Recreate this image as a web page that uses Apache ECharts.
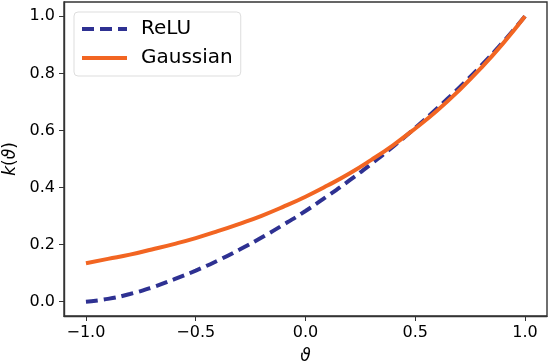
<!DOCTYPE html>
<html>
<head>
<meta charset="utf-8">
<script src="https://cdn.jsdelivr.net/npm/echarts@6/dist/echarts.min.js"></script>
<style>
  html, body { margin: 0; padding: 0; background: #fff; }
  #chart { width: 550px; height: 364px; }
</style>
</head>
<body>
<div id="chart"></div>
<script>
// theta values along the x axis
const thetas = [-1.0, -0.9, -0.8, -0.7, -0.6, -0.5, -0.4, -0.3, -0.2, -0.1, 0.0,
                0.1, 0.2, 0.3, 0.4, 0.5, 0.6, 0.7, 0.8, 0.9, 1.0];
// k(theta)
const reluValues = [0.000, 0.010, 0.027, 0.050, 0.078, 0.109, 0.144, 0.183, 0.225, 0.270, 0.318,
                    0.370, 0.425, 0.483, 0.544, 0.609, 0.678, 0.750, 0.827, 0.910, 1.000];
const gaussValues = [0.135, 0.150, 0.165, 0.183, 0.202, 0.223, 0.247, 0.273, 0.301, 0.333, 0.368,
                     0.407, 0.449, 0.497, 0.549, 0.607, 0.670, 0.741, 0.819, 0.905, 1.000];
const xTicks = [-1.0, -0.5, 0.0, 0.5, 1.0];
const yTicks = [0.0, 0.2, 0.4, 0.6, 0.8, 1.0];

const font = 'DejaVu Sans';
const fmt = (v) => v.toFixed(1).replace('-', '\u2212');

const chart = echarts.init(document.getElementById('chart'));

chart.setOption({
  animation: false,
  textStyle: { fontFamily: font },
  grid: {
    left: 64, right: 3, top: 2, bottom: 48,
    outerBoundsMode: 'none',
    show: true,
    borderColor: '#333',
    borderWidth: 1.4
  },
  legend: {
    left: 74, top: 12,
    orient: 'vertical',
    itemWidth: 45, itemHeight: 14,
    itemGap: 9,
    padding: [7, 8, 8, 6],
    borderColor: '#ddd', borderWidth: 1, borderRadius: 4,
    itemStyle: { opacity: 0 },
    lineStyle: { width: 4 },
    textStyle: { fontFamily: font, fontSize: 20, color: '#000', padding: [0, 0, 0, 9] },
    data: ['ReLU', 'Gaussian']
  },
  xAxis: {
    type: 'value',
    min: -1.1, max: 1.1,
    name: 'ϑ',
    nameLocation: 'middle',
    nameGap: 32,
    nameTextStyle: { fontFamily: font, fontSize: 17, fontStyle: 'italic', color: '#000' },
    axisLine: { show: true, onZero: false, lineStyle: { color: '#333', width: 1.4 } },
    axisTick: { show: true, inside: false, length: 5, customValues: xTicks, lineStyle: { color: '#333' } },
    axisLabel: { customValues: xTicks, formatter: fmt, fontFamily: font, fontSize: 16, color: '#000', margin: 9 },
    splitLine: { show: false }
  },
  yAxis: {
    type: 'value',
    min: -0.05, max: 1.05,
    name: '{i|k}(' + '{i|ϑ})',
    nameLocation: 'middle',
    nameRotate: 90,
    nameGap: 40,
    nameTextStyle: {
      fontFamily: font, fontSize: 17, color: '#000',
      rich: { i: { fontFamily: font, fontSize: 17, fontStyle: 'italic', color: '#000' } }
    },
    axisLine: { show: true, onZero: false, lineStyle: { color: '#333', width: 1.4 } },
    axisTick: { show: true, inside: false, length: 5, customValues: yTicks, lineStyle: { color: '#333' } },
    axisLabel: { customValues: yTicks, formatter: fmt, fontFamily: font, fontSize: 16, color: '#000', margin: 9 },
    splitLine: { show: false }
  },
  series: [
    {
      name: 'ReLU',
      type: 'line',
      smooth: true,
      symbol: 'none',
      z: 2,
      itemStyle: { color: '#2e3192' },
      lineStyle: { color: '#2e3192', width: 4, type: [12, 6] },
      data: thetas.map((t, i) => [t, reluValues[i]])
    },
    {
      name: 'Gaussian',
      type: 'line',
      smooth: true,
      symbol: 'none',
      z: 3,
      itemStyle: { color: '#f26522' },
      lineStyle: { color: '#f26522', width: 4 },
      data: thetas.map((t, i) => [t, gaussValues[i]])
    }
  ]
});
</script>
</body>
</html>
